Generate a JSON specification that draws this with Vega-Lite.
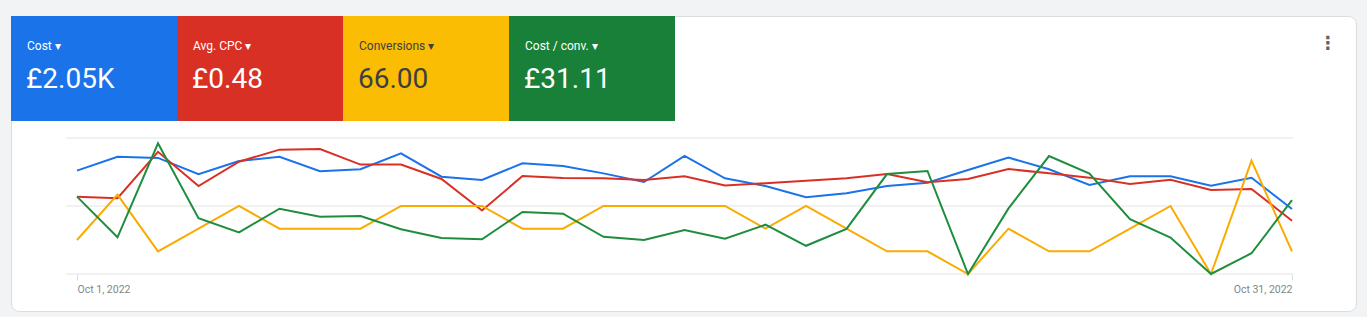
{
  "$schema": "https://vega.github.io/schema/vega-lite/v6.json",
  "width": 1345,
  "height": 295,
  "autosize": {"type": "none"},
  "padding": {"left": 11, "top": 16, "right": 11, "bottom": 6},
  "background": "#f1f3f4",
  "config": {
    "view": {"fill": "white", "stroke": "#dadce0", "cornerRadius": 8},
    "font": "Roboto"
  },
  "title": {
    "text": "⋮",
    "anchor": "end",
    "align": "center",
    "baseline": "middle",
    "offset": 0,
    "dx": -28,
    "dy": 46,
    "font": "DejaVu Sans",
    "fontSize": 18,
    "fontWeight": "bold",
    "color": "#5f6368"
  },
  "datasets": {
    "tiles": [
      {"metric": "Cost", "label": "Cost ▾", "total": "£2.05K"},
      {"metric": "Avg. CPC", "label": "Avg. CPC ▾", "total": "£0.48"},
      {"metric": "Conversions", "label": "Conversions ▾", "total": "66.00"},
      {"metric": "Cost / conv.", "label": "Cost / conv. ▾", "total": "£31.11"}
    ],
    "daily": [
      {"date": "2022-10-01", "cost": 68.4, "cpc": 0.398, "conversions": 1.5, "cost_per_conv": 45.5},
      {"date": "2022-10-02", "cost": 77.6, "cpc": 0.390, "conversions": 3.5, "cost_per_conv": 21.6},
      {"date": "2022-10-03", "cost": 76.8, "cpc": 0.629, "conversions": 1, "cost_per_conv": 76.9},
      {"date": "2022-10-04", "cost": 66.0, "cpc": 0.453, "conversions": 2, "cost_per_conv": 32.8},
      {"date": "2022-10-05", "cost": 74.8, "cpc": 0.578, "conversions": 3, "cost_per_conv": 24.5},
      {"date": "2022-10-06", "cost": 77.6, "cpc": 0.640, "conversions": 2, "cost_per_conv": 38.4},
      {"date": "2022-10-07", "cost": 68.0, "cpc": 0.643, "conversions": 2, "cost_per_conv": 33.7},
      {"date": "2022-10-08", "cost": 69.3, "cpc": 0.563, "conversions": 2, "cost_per_conv": 34.1},
      {"date": "2022-10-09", "cost": 79.9, "cpc": 0.563, "conversions": 3, "cost_per_conv": 26.3},
      {"date": "2022-10-10", "cost": 64.4, "cpc": 0.489, "conversions": 3, "cost_per_conv": 21.2},
      {"date": "2022-10-11", "cost": 62.2, "cpc": 0.327, "conversions": 3, "cost_per_conv": 20.4},
      {"date": "2022-10-12", "cost": 73.3, "cpc": 0.504, "conversions": 2, "cost_per_conv": 36.5},
      {"date": "2022-10-13", "cost": 71.5, "cpc": 0.494, "conversions": 2, "cost_per_conv": 35.5},
      {"date": "2022-10-14", "cost": 66.6, "cpc": 0.493, "conversions": 3, "cost_per_conv": 21.9},
      {"date": "2022-10-15", "cost": 60.9, "cpc": 0.484, "conversions": 3, "cost_per_conv": 20.0},
      {"date": "2022-10-16", "cost": 78.1, "cpc": 0.503, "conversions": 3, "cost_per_conv": 25.9},
      {"date": "2022-10-17", "cost": 63.3, "cpc": 0.456, "conversions": 3, "cost_per_conv": 20.8},
      {"date": "2022-10-18", "cost": 58.2, "cpc": 0.467, "conversions": 2, "cost_per_conv": 29.0},
      {"date": "2022-10-19", "cost": 50.8, "cpc": 0.480, "conversions": 3, "cost_per_conv": 16.6},
      {"date": "2022-10-20", "cost": 53.4, "cpc": 0.493, "conversions": 2, "cost_per_conv": 26.5},
      {"date": "2022-10-21", "cost": 58.2, "cpc": 0.515, "conversions": 1, "cost_per_conv": 58.8},
      {"date": "2022-10-22", "cost": 60.4, "cpc": 0.472, "conversions": 1, "cost_per_conv": 60.6},
      {"date": "2022-10-23", "cost": 68.8, "cpc": 0.489, "conversions": 0, "cost_per_conv": 0},
      {"date": "2022-10-24", "cost": 77.0, "cpc": 0.540, "conversions": 2, "cost_per_conv": 38.6},
      {"date": "2022-10-25", "cost": 69.3, "cpc": 0.518, "conversions": 1, "cost_per_conv": 69.4},
      {"date": "2022-10-26", "cost": 58.9, "cpc": 0.496, "conversions": 1, "cost_per_conv": 59.0},
      {"date": "2022-10-27", "cost": 64.7, "cpc": 0.463, "conversions": 2, "cost_per_conv": 32.2},
      {"date": "2022-10-28", "cost": 64.7, "cpc": 0.485, "conversions": 3, "cost_per_conv": 21.4},
      {"date": "2022-10-29", "cost": 58.4, "cpc": 0.432, "conversions": 0, "cost_per_conv": 0},
      {"date": "2022-10-30", "cost": 63.7, "cpc": 0.438, "conversions": 5, "cost_per_conv": 12.2},
      {"date": "2022-10-31", "cost": 43.0, "cpc": 0.274, "conversions": 1, "cost_per_conv": 43.5}
    ]
  },
  "layer": [
    {
      "data": {"name": "tiles"},
      "layer": [
        {
          "mark": {"type": "rect"},
          "encoding": {
            "x": {"field": "metric", "type": "nominal", "sort": null, "axis": null,
                  "scale": {"domain": ["Cost", "Avg. CPC", "Conversions", "Cost / conv."], "range": [0, 664], "paddingInner": 0, "paddingOuter": 0}},
            "y": {"datum": "tile", "type": "nominal", "axis": null,
                  "scale": {"range": [0, 105], "paddingInner": 0, "paddingOuter": 0}},
            "color": {"field": "metric", "type": "nominal", "legend": null,
                      "scale": {"domain": ["Cost", "Avg. CPC", "Conversions", "Cost / conv."], "range": ["#1a73e8", "#d93025", "#fbbc04", "#188038"]}}
          }
        },
        {
          "mark": {"type": "text", "align": "left", "baseline": "middle", "dx": 16, "fontSize": 12},
          "encoding": {
            "x": {"field": "metric", "type": "nominal", "sort": null, "axis": null, "bandPosition": 0,
                  "scale": {"domain": ["Cost", "Avg. CPC", "Conversions", "Cost / conv."], "range": [0, 664], "paddingInner": 0, "paddingOuter": 0}},
            "y": {"datum": "label", "type": "nominal", "axis": null,
                  "scale": {"type": "point", "domain": ["label", "value"], "range": [30, 64], "padding": 0}},
            "text": {"field": "label"},
            "color": {"condition": {"test": "datum.metric === 'Conversions'", "value": "#3c4043"}, "value": "white"}
          }
        },
        {
          "mark": {"type": "text", "align": "left", "baseline": "middle", "dx": 15, "fontSize": 28},
          "encoding": {
            "x": {"field": "metric", "type": "nominal", "sort": null, "axis": null, "bandPosition": 0,
                  "scale": {"domain": ["Cost", "Avg. CPC", "Conversions", "Cost / conv."], "range": [0, 664], "paddingInner": 0, "paddingOuter": 0}},
            "y": {"datum": "value", "type": "nominal", "axis": null,
                  "scale": {"type": "point", "domain": ["label", "value"], "range": [30, 64], "padding": 0}},
            "text": {"field": "total"},
            "color": {"condition": {"test": "datum.metric === 'Conversions'", "value": "#3c4043"}, "value": "white"}
          }
        }
      ],
      "resolve": {"scale": {"y": "independent"}}
    },
    {
      "data": {"name": "daily"},
      "layer": [
        {
          "data": {"values": [{"g": 0}, {"g": 3}, {"g": 6}]},
          "mark": {"type": "rule", "color": "#e3e3e3", "strokeWidth": 1, "xOffset": -11, "x2Offset": 1},
          "encoding": {
            "x": {"datum": 1664582400000, "type": "temporal",
                  "scale": {"type": "utc", "range": [66, 1281], "nice": false, "padding": 0},
                  "axis": {"values": [1664582400000, 1667174400000], "format": "%b %-d, %Y", "grid": false, "domain": false,
                           "offset": -37, "tickSize": 6, "tickColor": "#dadce0", "labelColor": "#80868b", "labelFontSize": 10.5,
                           "labelFlush": true, "labelPadding": 4, "title": null}},
            "x2": {"datum": 1667174400000},
            "y": {"field": "g", "type": "quantitative", "axis": null,
                  "scale": {"domain": [0, 6], "range": [258, 122], "nice": false, "zero": false}}
          }
        },
        {
          "mark": {"type": "line", "color": "#1a73e8", "strokeWidth": 2},
          "encoding": {
            "x": {"field": "date", "type": "temporal"},
            "y": {"field": "cost", "type": "quantitative", "axis": null,
                  "scale": {"domain": [0, 90], "range": [258, 122], "nice": false, "zero": false}}
          }
        },
        {
          "mark": {"type": "line", "color": "#d93025", "strokeWidth": 2},
          "encoding": {
            "x": {"field": "date", "type": "temporal"},
            "y": {"field": "cpc", "type": "quantitative", "axis": null,
                  "scale": {"domain": [0, 0.7], "range": [258, 122], "nice": false, "zero": false}}
          }
        },
        {
          "mark": {"type": "line", "color": "#f9ab00", "strokeWidth": 2},
          "encoding": {
            "x": {"field": "date", "type": "temporal"},
            "y": {"field": "conversions", "type": "quantitative", "axis": null,
                  "scale": {"domain": [0, 6], "range": [258, 122], "nice": false, "zero": false}}
          }
        },
        {
          "mark": {"type": "line", "color": "#1e8e3e", "strokeWidth": 2},
          "encoding": {
            "x": {"field": "date", "type": "temporal"},
            "y": {"field": "cost_per_conv", "type": "quantitative", "axis": null,
                  "scale": {"domain": [0, 80], "range": [258, 122], "nice": false, "zero": false}}
          }
        }
      ],
      "resolve": {"scale": {"y": "independent"}}
    }
  ],
  "resolve": {"scale": {"x": "independent", "y": "independent", "color": "independent"}}
}
